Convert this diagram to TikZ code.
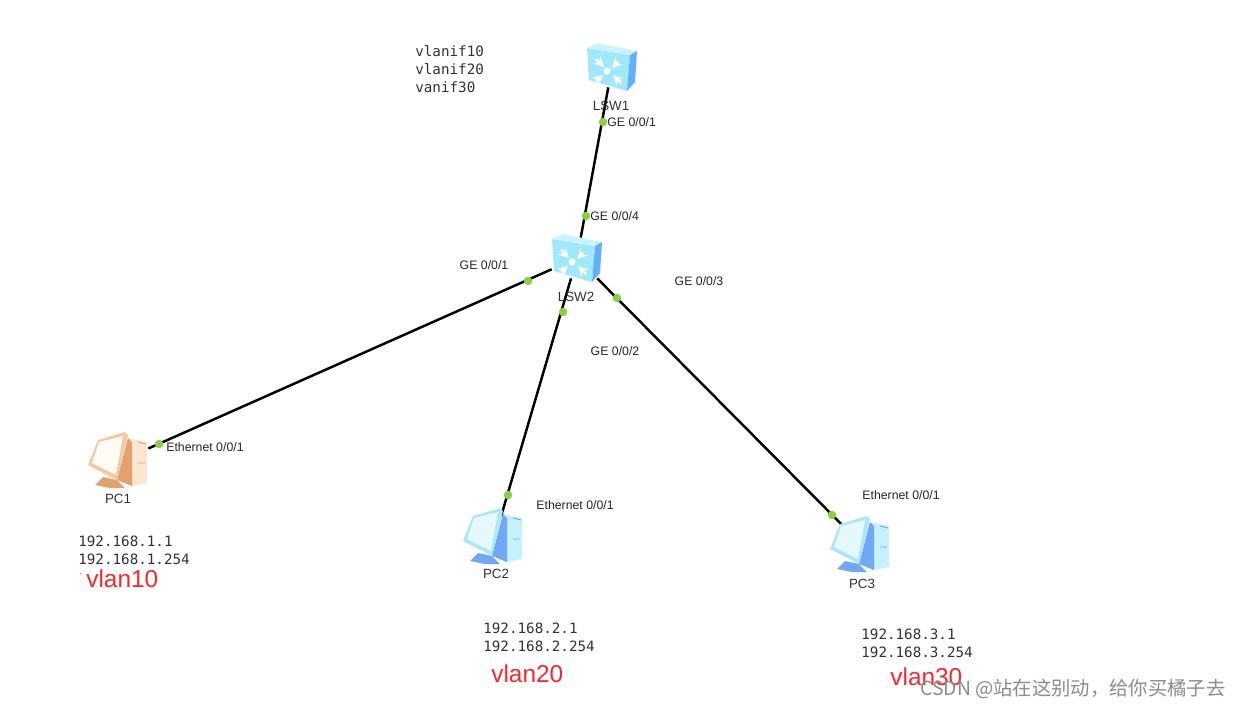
\documentclass[tikz,border=0pt]{standalone}
\usepackage{fontspec}
\usepackage{xcolor}
\setmainfont{Liberation Sans}
\setmonofont{DejaVu Sans Mono}
\newfontfamily\cjkfont{Noto Sans CJK SC}
\usetikzlibrary{positioning, arrows}

\definecolor{swfront}{HTML}{9FE9FB}
\definecolor{swtop}{HTML}{C9F4FD}
\definecolor{swside}{HTML}{62B0FB}
\definecolor{portgreen}{HTML}{8CCF3F}
\definecolor{vlanred}{HTML}{F8282C}
\definecolor{pcframe}{HTML}{A9E8FB}
\definecolor{pcside}{HTML}{6FA9F5}
\definecolor{pctower}{HTML}{C5F1FD}
\definecolor{pcscreen}{HTML}{E4F8FE}
\definecolor{oldframe}{HTML}{F5C9A0}
\definecolor{oldside}{HTML}{E2A26E}
\definecolor{oldtower}{HTML}{FBE6D2}
\definecolor{oldscreen}{HTML}{FFFBF5}

\tikzset{
    pics/swicon/.style={code={
        \fill[swfront] (-25,-19) -- (18,-12) -- (15,24) -- (-23,13) -- cycle;
        \fill[swtop] (-25,-19) -- (-15,-24) -- (25,-16) -- (18,-12) -- cycle;
        \fill[swside] (18,-12) -- (25,-16) -- (23,15) -- (15,24) -- cycle;
        \fill[white] (-5,4) circle (3.5);
        \draw[white, line width=1.5pt, -stealth] (-16,-8) -- (-8,0);
        \draw[white, line width=1.5pt, -stealth] (6,-5) -- (0,1);
        \draw[white, line width=1.5pt, -stealth] (-16,14) -- (-9,8);
        \draw[white, line width=1.5pt, -stealth] (9,16) -- (1,8);
    }},
    pics/pcicon/.style n args={4}{code={
        \fill[#3] (8,-23) -- (27,-19) -- (27,22) -- (12,25) -- cycle;
        \fill[#2] (8,-23) -- (-3,19) -- (12,25) -- (12,-19) -- cycle;
        \fill[#2] (-25,24) -- (-17,16) -- (-3,19) -- (5,27) -- (-10,27) -- cycle;
        \fill[#1] (-32,4) -- (-22,-21) -- (5,-29) -- (8,-26) -- (-3,19) -- cycle;
        \fill[#4] (-28,2) -- (-21,-19) -- (3,-25) -- (-4,14) -- cycle;
        \draw[#2, line width=0.5pt] (18,-19) -- (26,-17) (18,2) -- (25,2);
    }},
}

\begin{document}
\begin{tikzpicture}[
    x=0.02cm, y=-0.02cm,
    device/.style={rectangle, inner sep=0pt, minimum width=1cm, minimum height=0.8cm},
    host/.style={rectangle, inner sep=0pt, minimum width=1.12cm, minimum height=0.8cm},
    port/.style={circle, inner sep=0pt, minimum size=0.17cm, fill=portgreen},
    link/.style={black, line width=1.4pt},
    portlabel/.style={inner sep=0pt, text=black!85, font=\fontsize{7}{8}\selectfont},
    namelabel/.style={inner sep=0pt, text=black!80, font=\fontsize{7.6}{9}\selectfont},
    addr/.style={inner sep=0pt, anchor=west, align=left, text=black!80, font=\ttfamily\fontsize{8.1}{10.2}\selectfont},
    vlanlabel/.style={inner sep=0pt, anchor=west, text=vlanred, font=\fontsize{13.9}{16}\selectfont}
]
\fill[white] (0,0) rectangle (1246,708);
\useasboundingbox (0,0) rectangle (1246,708);

% Devices
\node (lsw1) [device] at (612,67) {};
\node (lsw2) [device] at (577,258) {};
\node (pc1) [host] at (120,461) {};
\node (pc2) [host] at (495,537) {};
\node (pc3) [host] at (862,545) {};

% Links
\draw[link] (lsw1) -- (lsw2);
\draw[link] (lsw2) -- (pc1);
\draw[link] (lsw2) -- (pc2);
\draw[link] (lsw2) -- (pc3);

% Icons
\pic at (lsw1) {swicon};
\pic at (lsw2) {swicon};
\pic at (pc1) {pcicon={oldframe}{oldside}{oldtower}{oldscreen}};
\pic at (pc2) {pcicon={pcframe}{pcside}{pctower}{pcscreen}};
\pic at (pc3) {pcicon={pcframe}{pcside}{pctower}{pcscreen}};

% Ports
\node (p1) [port] at (603,122) {};
\node (p2) [port] at (586,216) {};
\node (p3) [port] at (528,281) {};
\node (p4) [port] at (563,312) {};
\node (p5) [port] at (617,298) {};
\node (p6) [port] at (159,444) {};
\node (p7) [port] at (508,495) {};
\node (p8) [port] at (832,515) {};

% Port labels
\node (g1) [portlabel, anchor=west] at (607,122) {GE 0/0/1};
\node (g2) [portlabel, anchor=west] at (590,216) {GE 0/0/4};
\node (g3) [portlabel] at (484,265) {GE 0/0/1};
\node (g4) [portlabel] at (615,351) {GE 0/0/2};
\node (g5) [portlabel] at (699,281) {GE 0/0/3};
\node (e1) [portlabel, anchor=west] at (166,447) {Ethernet 0/0/1};
\node (e2) [portlabel] at (575,505) {Ethernet 0/0/1};
\node (e3) [portlabel] at (901,495) {Ethernet 0/0/1};

% Names
\node (n1) [namelabel] at (611,106) {LSW1};
\node (n2) [namelabel] at (576,297) {LSW2};
\node (n3) [namelabel] at (118,499) {PC1};
\node (n4) [namelabel] at (496,574) {PC2};
\node (n5) [namelabel] at (862,584) {PC3};

% Addresses
\node (vif) [addr] at (415,69) {vlanif10\\vlanif20\\vanif30};
\node (a1) [addr] at (78,550) {192.168.1.1\\192.168.1.254};
\node (a2) [addr] at (483,637) {192.168.2.1\\192.168.2.254};
\node (a3) [addr] at (861,643) {192.168.3.1\\192.168.3.254};

% Vlans
\node (tick) [inner sep=0pt, text=black!60, font=\fontsize{6}{7}\selectfont] at (81,578) {\textasciigrave};
\node (v1) [vlanlabel] at (86,579) {vlan10};
\node (v2) [vlanlabel] at (491,674) {vlan20};
\node (v3) [vlanlabel] at (890,677) {vlan30};

% Watermark
\node (mark) [inner sep=0pt, anchor=west, text=black!45, font=\cjkfont\fontsize{11}{13}\selectfont] at (920,689) {CSDN @站在这别动，给你买橘子去};
\end{tikzpicture}
\end{document}
